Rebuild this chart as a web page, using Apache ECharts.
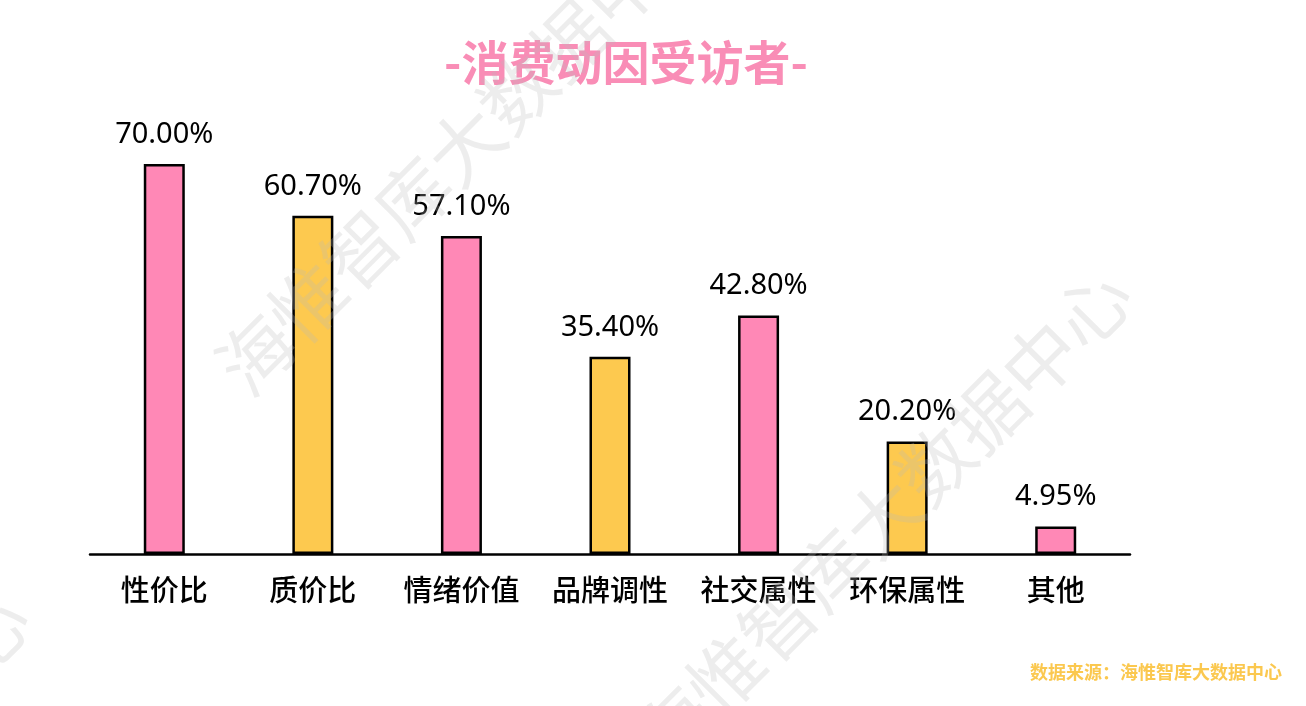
<!DOCTYPE html>
<html>
<head>
<meta charset="utf-8">
<script src="https://cdn.jsdelivr.net/npm/echarts@6/dist/echarts.min.js"></script>
<style>
	html, body { margin: 0; padding: 0; background: #fff; }
	#main { width: 1306px; height: 706px; }
</style>
</head>
<body>
<div id="main"></div>
<script>
	// 数据
	var categories = ['性价比', '质价比', '情绪价值', '品牌调性', '社交属性', '环保属性', '其他']
	var values = [70.00, 60.70, 57.10, 35.40, 42.80, 20.20, 4.95]
	var titleText = '-消费动因受访者-'
	var sourceText = '数据来源：海惟智库大数据中心'
	var watermarkText = '海惟智库大数据中心'

	var barColors = ['#ff88b6', '#fdc94f']
	var fontCJK = '"Noto Sans CJK SC", "Noto Sans", sans-serif'

	var seriesData = values.map(function (v, i) {
		return {
			value: v,
			itemStyle: { color: barColors[i % 2] }
		}
	})

	// 水印
	var wmCenters = [[465, 145], [883, 517], [-219, 841]]
	var watermarks = wmCenters.map(function (c) {
		return {
			type: 'text',
			x: c[0],
			y: c[1],
			rotation: Math.PI / 4,
			z: 100,
			silent: true,
			style: {
				text: watermarkText,
				fontSize: 74,
				fontFamily: fontCJK,
				fontWeight: 'normal',
				fill: 'rgba(185,185,185,0.26)',
				align: 'center',
				verticalAlign: 'middle'
			}
		}
	})

	var dom = echarts.init(document.getElementById('main'))
	var option = {
		backgroundColor: '#fff',
		grid: {
			left: 90,
			right: 176,
			top: 108.3,
			bottom: 152
		},
		xAxis: {
			type: 'category',
			data: categories,
			axisLine: {
				show: true,
				lineStyle: { color: '#000', width: 2.5 }
			},
			axisTick: { show: false },
			axisLabel: {
				interval: 0,
				color: '#000',
				fontSize: 29,
				fontWeight: 500,
				fontFamily: fontCJK,
				margin: 21
			}
		},
		yAxis: {
			type: 'value',
			min: 0,
			max: 80,
			show: false,
			splitLine: { show: false }
		},
		series: [{
			type: 'bar',
			data: seriesData,
			barWidth: 41,
			itemStyle: {
				borderColor: '#000',
				borderWidth: 2.5
			},
			label: {
				show: true,
				position: 'top',
				distance: 15,
				color: '#000',
				fontSize: 29,
				fontFamily: '"Noto Sans", sans-serif',
				formatter: function (p) {
					return p.value.toFixed(2) + '%'
				}
			}
		}],
		graphic: watermarks.concat([{
			type: 'text',
			x: 626,
			y: 62,
			z: 90,
			style: {
				text: titleText,
				fontSize: 47,
				fontWeight: 'bold',
				fontFamily: fontCJK,
				fill: '#f98db6',
				align: 'center',
				verticalAlign: 'middle'
			}
		}, {
			type: 'text',
			right: 24,
			top: 663,
			z: 110,
			style: {
				text: sourceText,
				fontSize: 18,
				fontWeight: 'bold',
				fontFamily: fontCJK,
				fill: '#fbc84f'
			}
		}])
	}
	dom.setOption(option)
</script>
</body>
</html>
